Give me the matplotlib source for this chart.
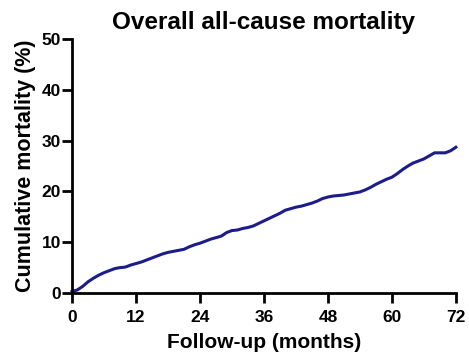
import matplotlib
matplotlib.use("Agg")
import matplotlib.pyplot as plt

months = list(range(0, 73))
mortality = [0.3, 0.6, 1.3, 2.2, 2.9, 3.5, 4.0, 4.4, 4.8, 5.0,
             5.1, 5.5, 5.8, 6.1, 6.5, 6.9, 7.3, 7.7, 8.0, 8.2,
             8.4, 8.6, 9.1, 9.5, 9.8, 10.2, 10.6, 10.9, 11.2, 11.9,
             12.3, 12.4, 12.7, 12.9, 13.2, 13.7, 14.2, 14.7, 15.2, 15.7,
             16.3, 16.6, 16.9, 17.1, 17.4, 17.7, 18.1, 18.6, 18.9, 19.1,
             19.2, 19.3, 19.5, 19.7, 19.9, 20.3, 20.8, 21.4, 21.9, 22.4,
             22.8, 23.5, 24.3, 25.0, 25.6, 26.0, 26.4, 27.0, 27.6, 27.6,
             27.6, 28.0, 28.7]
xticks = [0, 12, 24, 36, 48, 60, 72]
yticks = [0, 10, 20, 30, 40, 50]

plt.rcParams['font.family'] = ['Liberation Sans', 'DejaVu Sans']
fig = plt.figure(figsize=(4.69, 3.52), dpi=100)
ax = fig.add_axes([0.1535, 0.1676, 0.8185, 0.7214])
ax.plot(months, mortality, color='#1c1c8a', lw=2.2, solid_joinstyle='round')
ax.set_xlim(0, 72)
ax.set_ylim(0, 50)
ax.set_xticks(xticks)
ax.set_yticks(yticks)
for s in ['top', 'right']:
    ax.spines[s].set_visible(False)
for s in ['left', 'bottom']:
    ax.spines[s].set_linewidth(2)
ax.tick_params(direction='out', length=7, width=2, labelsize=12.5)
ax.tick_params(axis='x', pad=5)
ax.tick_params(axis='y', pad=1)
for lab in ax.get_xticklabels() + ax.get_yticklabels():
    lab.set_fontweight('bold')
ax.set_xlabel('Follow-up (months)', fontsize=15, fontweight='bold', labelpad=6)
ax.set_ylabel('Cumulative mortality (%)', fontsize=15.5, fontweight='bold', labelpad=4)
ax.set_title('Overall all-cause mortality', fontsize=17.5, fontweight='bold', pad=7)
for line in ax.get_lines():
    line.set_clip_on(False)
fig.savefig('out.png', dpi=100)
